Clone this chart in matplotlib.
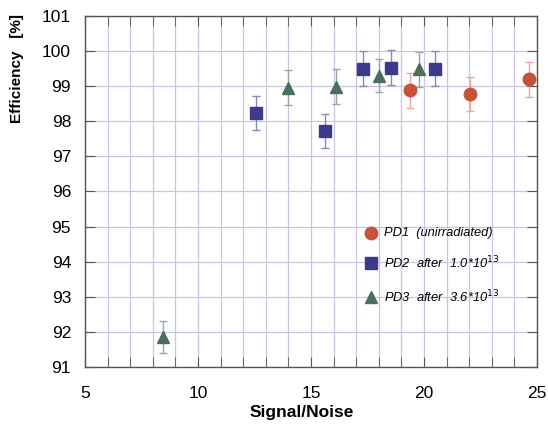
import matplotlib
matplotlib.use("Agg")
import matplotlib.pyplot as plt
from matplotlib.ticker import MultipleLocator

plt.rcParams['font.family'] = ['Liberation Sans', 'DejaVu Sans']

# PD1 (unirradiated)
pd1_x = [19.4, 22.05, 24.65]
pd1_y = [98.88, 98.78, 99.2]
pd1_err = [0.5, 0.48, 0.5]

# PD2 after 1.0*10^13
pd2_x = [12.57, 15.62, 17.3, 18.55, 20.5]
pd2_y = [98.24, 97.72, 99.5, 99.52, 99.5]
pd2_err = [0.48, 0.48, 0.5, 0.5, 0.5]

# PD3 after 3.6*10^13
pd3_x = [8.45, 13.98, 16.12, 18.0, 19.8]
pd3_y = [91.85, 98.95, 98.98, 99.3, 99.48]
pd3_err = [0.45, 0.5, 0.5, 0.48, 0.5]

labels = ["PD1  (unirradiated)", "PD2  after  1.0*10$^{13}$", "PD3  after  3.6*10$^{13}$"]

c1, c2, c3 = '#C4533A', '#3B3A8C', '#4B6E5F'
e1, e2, e3 = '#E8A898', '#8A88B4', '#95A9A0'

fig = plt.figure(figsize=(5.48, 4.24), dpi=100)
ax = fig.add_axes([0.155, 0.1344, 0.825, 0.828])

ax.errorbar(pd1_x, pd1_y, yerr=pd1_err, fmt='o', color=c1, ecolor=e1,
            markersize=9, capsize=2.7, elinewidth=1, capthick=1, zorder=3)
ax.errorbar(pd2_x, pd2_y, yerr=pd2_err, fmt='s', color=c2, ecolor=e2,
            markersize=8.5, capsize=2.7, elinewidth=1, capthick=1, zorder=3)
ax.errorbar(pd3_x, pd3_y, yerr=pd3_err, fmt='^', color=c3, ecolor=e3,
            markersize=8.5, capsize=2.7, elinewidth=1, capthick=1, zorder=3)

# legend drawn inside the axes like the original
leg_x = 17.65
leg_y = [94.82, 93.96, 93.0]
for mk, col, ly, lab, ms in zip(['o', 's', '^'], [c1, c2, c3], leg_y, labels, [9, 8.5, 9]):
    ax.plot([leg_x], [ly], marker=mk, color=col, markersize=ms, linestyle='none', zorder=4)
    ax.text(leg_x + 0.6, ly, lab, fontsize=9.3, style='italic', va='center', ha='left', zorder=4)

ax.set_xlim(5, 25)
ax.set_ylim(91, 101)
ax.xaxis.set_major_locator(MultipleLocator(5))
ax.xaxis.set_minor_locator(MultipleLocator(1))
ax.yaxis.set_major_locator(MultipleLocator(1))

ax.grid(which='both', axis='x', color='#C9C6E2', linewidth=0.9)
ax.grid(which='major', axis='y', color='#C9C6E2', linewidth=0.9)
ax.set_axisbelow(True)

ax.tick_params(which='both', direction='in', top=True, right=True, color='#555555')
ax.tick_params(which='major', length=7)
ax.tick_params(which='minor', length=7)
ax.tick_params(axis='x', which='major', pad=14, labelsize=12.5)
ax.tick_params(axis='y', which='major', pad=10, labelsize=12.5)

for sp in ax.spines.values():
    sp.set_color('#555555')
    sp.set_linewidth(1)

ax.set_xlabel('Signal/Noise', fontsize=12.5, fontweight='bold')
ax.set_ylabel('Efficiency   [%]', fontsize=11, fontweight='bold')
ax.xaxis.set_label_coords(0.48, -0.108)
ax.yaxis.set_label_coords(-0.135, 0.85)

fig.savefig('out.png', dpi=100)
